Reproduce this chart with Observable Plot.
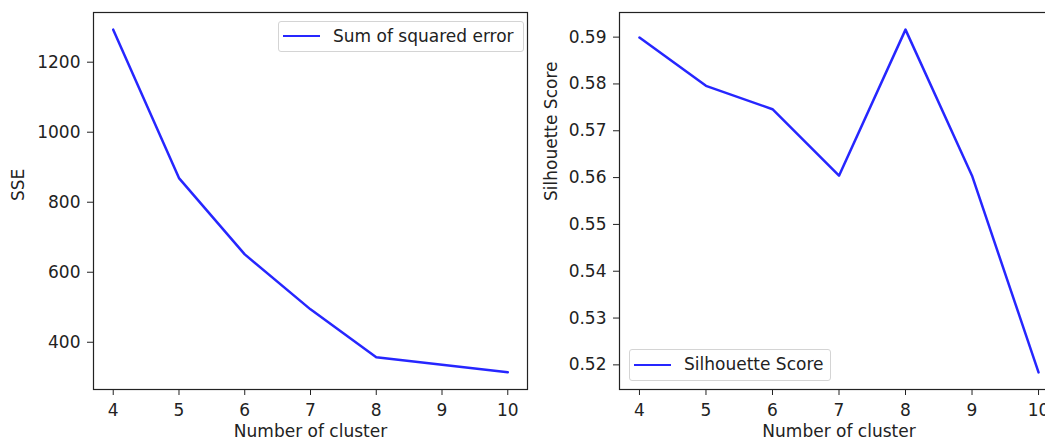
<!DOCTYPE html>
<html>
<head>
<meta charset="utf-8">
<script src="https://cdn.jsdelivr.net/npm/d3@7"></script>
<script src="https://cdn.jsdelivr.net/npm/@observablehq/plot@0.6"></script>
<style>
  html, body { margin: 0; padding: 0; background: #fff; }
  #page { position: relative; width: 1045px; height: 443px; overflow: hidden; font-family: "DejaVu Sans", sans-serif; color: #222; }
  .panel { position: absolute; top: 0; }
  .panel svg { max-width: none !important; display: block; }
  .legend { position: absolute; box-sizing: border-box; border: 1px solid #d4d4d4; border-radius: 3px; background: rgba(255,255,255,0.8); }
  .swatch { position: absolute; height: 0; border-top: 2.5px solid rgba(0,0,255,0.85); }
  .ltext { position: absolute; font-size: 17px; line-height: 17px; white-space: nowrap; color: #222; }
</style>
</head>
<body>
<div id="page"></div>
<script>
// ---- data ----
const clusters = [4, 5, 6, 7, 8, 9, 10];
const sse = [1293, 869, 651, 494, 357, 336, 314];
const silhouette = [0.5899, 0.5796, 0.5746, 0.5604, 0.5916, 0.5604, 0.5184];
const xTicks = [4, 5, 6, 7, 8, 9, 10];
const sseTicks = [400, 600, 800, 1000, 1200];
const silTicks = [0.52, 0.53, 0.54, 0.55, 0.56, 0.57, 0.58, 0.59];
const xLabel = "Number of cluster";
const sseLabel = "SSE";
const silLabel = "Silhouette Score";
const sseLegend = "Sum of squared error";
const silLegend = "Silhouette Score";

// matplotlib-style 5% margins
function padded(vals) {
  const [a, b] = d3.extent(vals);
  const m = (b - a) * 0.05;
  return [a - m, b + m];
}

const page = document.getElementById("page");
const lineColor = "#0000ff";

function panel({values, yTicks, yLabel, yFormat, left, width, marginLeft, marginRight, labelDx}) {
  const data = clusters.map((c, i) => ({c, v: values[i]}));
  const chart = Plot.plot({
    width, height: 443,
    marginLeft, marginRight, marginTop: 12, marginBottom: 54,
    style: {fontFamily: "DejaVu Sans, sans-serif", fontSize: "17px", color: "#222", background: "transparent", overflow: "visible", maxWidth: "none"},
    x: {domain: padded(clusters)},
    y: {domain: padded(values)},
    marks: [
      Plot.axisX({ticks: xTicks, tickSize: 6, tickPadding: 8, label: null, tickFormat: d3.format("d")}),
      Plot.axisY({ticks: yTicks, tickSize: 6, tickPadding: 7, label: null, tickFormat: yFormat}),
      Plot.line(data, {x: "c", y: "v", stroke: lineColor, strokeOpacity: 0.85, strokeWidth: 2.5}),
      Plot.frame({stroke: "#222", strokeWidth: 1.2}),
      Plot.text([yLabel], {frameAnchor: "left", dx: labelDx, rotate: -90, fill: "#222"}),
      Plot.text([xLabel], {frameAnchor: "bottom", dy: 47, fill: "#222"})
    ]
  });
  const wrap = document.createElement("div");
  wrap.className = "panel";
  wrap.style.left = left + "px";
  wrap.style.width = width + "px";
  wrap.appendChild(chart);
  page.appendChild(wrap);
}

panel({values: sse, yTicks: sseTicks, yLabel: sseLabel, yFormat: d3.format("d"),
       left: 0, width: 540, marginLeft: 93, marginRight: 13, labelDx: -75});
panel({values: silhouette, yTicks: silTicks, yLabel: silLabel, yFormat: d3.format(".2f"),
       left: 520, width: 560, marginLeft: 99, marginRight: 22, labelDx: -68});

function legend(boxLeft, boxTop, boxW, boxH, label) {
  const box = document.createElement("div");
  box.className = "legend";
  Object.assign(box.style, {left: boxLeft + "px", top: boxTop + "px", width: boxW + "px", height: boxH + "px"});
  page.appendChild(box);
  const sw = document.createElement("div");
  sw.className = "swatch";
  Object.assign(sw.style, {left: (boxLeft + 5) + "px", top: (boxTop + boxH / 2 - 1.25) + "px", width: "37px"});
  page.appendChild(sw);
  const t = document.createElement("div");
  t.className = "ltext";
  t.textContent = label;
  Object.assign(t.style, {left: (boxLeft + 55) + "px", top: (boxTop + boxH / 2 - 9) + "px"});
  page.appendChild(t);
}
legend(278, 21, 246, 31, sseLegend);
legend(629, 349, 202, 32, silLegend);
</script>
</body>
</html>
